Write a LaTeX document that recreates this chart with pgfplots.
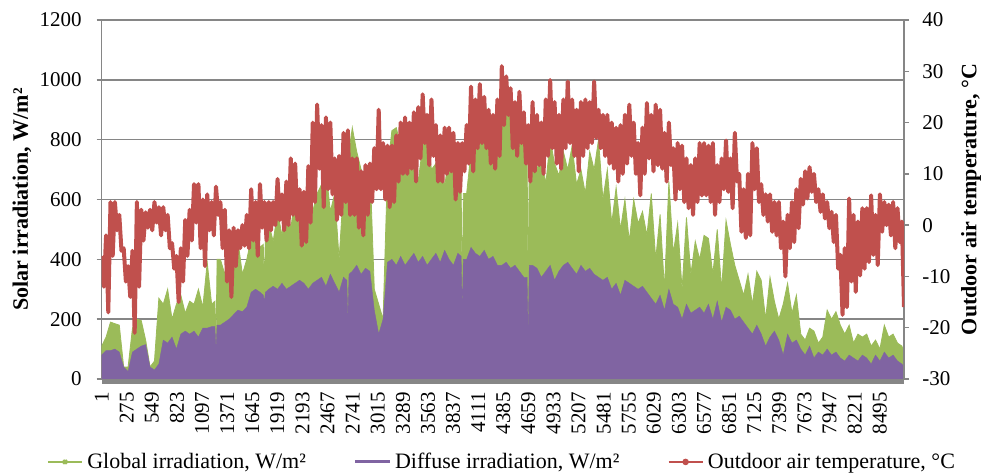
\documentclass[border=0pt]{standalone}
\usepackage{fontspec}
\setmainfont{Liberation Serif}
\usepackage{pgfplots}
\usepackage{pgfplotstable}
\pgfplotsset{compat=1.18}
\definecolor{cgreen}{RGB}{155,187,89}
\definecolor{cpurple}{RGB}{128,100,162}
\definecolor{cred}{RGB}{192,80,77}
\definecolor{cgrid}{RGB}{134,134,134}

\pgfplotstableread{
h G D
1 110 80
49 140 95
97 190 95
145 185 100
193 180 90
241 40 40
289 40 25
337 170 90
385 200 100
433 195 110
481 130 115
529 40 40
577 60 30
625 270 50
673 250 130
721 300 120
769 200 140
817 250 100
865 280 150
913 220 160
961 260 150
1009 250 160
1057 300 140
1105 240 170
1153 390 170
1201 250 175
1237 260 175
1249 120 100
1261 400 180
1297 400 180
1345 350 190
1393 420 200
1441 380 215
1489 460 230
1537 350 225
1585 400 240
1633 470 290
1681 510 300
1729 440 290
1765 450 280
1777 300 260
1789 500 290
1825 520 300
1873 460 310
1921 560 300
1969 480 320
2017 590 300
2065 500 310
2113 620 320
2161 540 330
2209 520 320
2257 600 300
2305 560 320
2353 620 330
2401 650 340
2449 700 310
2497 560 350
2545 620 320
2593 400 290
2641 640 340
2677 700 330
2689 720 200
2701 760 350
2737 840 360
2785 760 380
2833 700 350
2881 600 370
2929 720 360
2977 300 230
3025 250 150
3073 200 200
3121 700 390
3169 830 400
3217 840 380
3265 780 410
3313 700 380
3361 800 400
3409 760 420
3457 660 390
3505 780 410
3553 820 380
3601 700 400
3649 720 420
3697 780 390
3745 640 430
3793 760 400
3841 700 380
3889 650 420
3925 650 410
3937 250 230
3949 620 400
3985 620 400
4033 760 440
4081 850 420
4129 900 410
4177 940 430
4225 860 400
4273 820 410
4321 900 380
4369 960 380
4417 990 390
4465 880 370
4513 800 380
4561 850 360
4609 780 340
4645 780 340
4657 200 150
4669 800 380
4705 800 380
4753 700 370
4801 760 340
4849 650 360
4897 800 380
4945 720 330
4993 680 360
5041 760 380
5089 700 390
5137 780 370
5185 650 350
5233 700 380
5281 620 360
5329 760 370
5377 700 350
5425 800 340
5473 600 330
5521 700 340
5569 520 300
5617 640 320
5665 500 280
5713 600 330
5761 460 320
5809 600 310
5857 520 300
5905 560 310
5953 480 290
6001 620 270
6049 400 250
6097 550 280
6145 300 230
6193 660 300
6241 420 250
6289 520 240
6337 300 200
6385 540 250
6433 350 220
6481 460 230
6529 400 240
6577 480 220
6625 470 250
6673 350 200
6721 500 260
6769 300 190
6817 530 240
6865 450 230
6913 380 200
6961 330 210
7009 280 190
7057 350 170
7105 250 150
7153 360 180
7201 330 150
7249 200 110
7297 340 140
7345 260 160
7393 200 130
7441 250 80
7489 320 150
7537 220 120
7585 280 130
7633 150 100
7681 130 80
7729 170 110
7777 160 70
7825 120 90
7873 140 80
7921 230 100
7969 200 80
8017 225 90
8065 180 70
8113 150 60
8161 180 80
8209 120 70
8257 150 60
8305 140 80
8353 150 70
8401 110 50
8449 130 80
8497 100 60
8545 180 90
8593 140 70
8641 150 80
8689 120 60
8737 110 50
8760 90 40
}\irr

\pgfplotstableread{
h T
1 -6
25 -12
49 -2
73 -17
97 4.5
121 -6
145 4.5
169 -1
193 2
217 -5
241 -4.5
265 -11
289 -8
313 -14
337 -5
361 -21
385 4.5
409 -12
433 3
457 -3
481 2.5
505 -0.5
529 3
553 -1
577 4.5
601 0.5
625 3.5
649 -2
673 3.5
697 -1
721 2
745 -4.5
769 -3.5
793 -8.5
817 -6
841 -15
865 -4.5
889 -11
913 1
937 -6
961 3
985 -3
1009 8
1033 0.5
1057 8
1081 -4.5
1105 5
1129 -8
1153 6
1177 -1
1201 4.5
1225 -2
1249 7.5
1273 2
1297 4.5
1321 -4.5
1345 3
1369 -11
1393 -1
1417 -14
1441 -0.5
1465 -8
1489 -1
1513 -4.5
1537 0
1561 -4
1585 2
1609 -4.5
1633 7
1657 -3
1681 4.5
1705 -6
1729 8
1753 -0.5
1777 4.5
1801 -3
1825 4.5
1849 -1
1873 4.5
1897 0
1921 9
1945 1
1969 6
1993 -1
2017 8.5
2041 0
2065 13
2089 2
2113 12
2137 1
2161 7
2185 -4
2209 6.5
2233 -3.3
2257 11.5
2281 0.5
2305 20
2329 4.5
2353 23.5
2377 11
2401 19.5
2425 3.5
2449 21
2473 7
2497 20
2521 6
2545 13
2569 1
2593 13.5
2617 2
2641 18
2665 4.5
2689 18.5
2713 2
2737 13
2761 2
2785 13
2809 -0.5
2833 10.5
2857 -2
2881 11.7
2905 2
2929 12
2953 4.5
2977 15
3001 7
3025 22.5
3049 7
3073 16
3097 5
3121 15.5
3145 3.5
3169 15.5
3193 4.5
3217 17.5
3241 8.5
3265 20
3289 10
3313 21
3337 10
3361 20
3385 11
3409 22
3433 8.5
3457 23
3481 13
3505 25.5
3529 16
3553 21.5
3577 11.7
3601 24.5
3625 13.5
3649 19.5
3673 8.5
3697 17.5
3721 8.5
3745 19
3769 10
3793 19
3817 10.5
3841 18
3865 5
3889 16
3913 6.5
3937 16
3961 10.5
3985 19.5
4009 12
4033 27
4057 10.5
4081 24.5
4105 15
4129 27.5
4153 16
4177 25
4201 15
4225 22.5
4249 12
4273 21.5
4297 11
4321 24.5
4345 13.5
4369 31
4393 19.5
4417 29
4441 21.5
4465 26.7
4489 15
4513 24
4537 13.5
4561 26
4585 16
4609 22
4633 12
4657 19.5
4681 8.5
4705 24
4729 10.5
4753 21.5
4777 11.7
4801 20
4825 10
4849 24.5
4873 13.5
4897 28.3
4921 15
4945 24
4969 12
4993 21.5
5017 11
5041 24.5
5065 15
5089 28
5113 16
5137 24.5
5161 13.5
5185 22.5
5209 10.5
5233 24
5257 13.5
5281 24.5
5305 15
5329 24
5353 16
5377 28
5401 17
5425 22.5
5449 15
5473 21.5
5497 13.5
5521 21.5
5545 12
5569 20
5593 11
5617 19
5641 8.5
5665 19.5
5689 10
5713 21.5
5737 12
5761 23.5
5785 13.5
5809 20
5833 10
5857 16
5881 5.8
5905 19
5929 10
5953 23.8
5977 13
6001 21.5
6025 10.5
6049 23.5
6073 11.7
6097 22.5
6121 11
6145 18
6169 8.5
6193 20
6217 11.7
6241 15
6265 5
6289 16
6313 7
6337 15.5
6361 4.5
6385 13
6409 3.3
6433 11.7
6457 2
6481 13
6505 4.5
6529 16
6553 5.8
6577 16
6601 5.8
6625 15.5
6649 4.5
6673 16
6697 2
6721 11.7
6745 4.5
6769 13
6793 7
6817 16.5
6841 6.5
6865 13
6889 3.3
6913 18
6937 8.5
6961 10
6985 -1.3
7009 7
7033 -2.5
7057 10
7081 -2
7105 16
7129 7
7153 15
7177 4.5
7201 8
7225 2
7249 6
7273 0.7
7297 6
7321 -1.3
7345 4.5
7369 -2
7393 4.5
7417 -4.5
7441 0.7
7465 -10
7489 2
7513 -4.5
7537 4.5
7561 -3.3
7585 7
7609 -0.6
7633 9
7657 4
7681 10.5
7705 5.2
7729 11.3
7753 6.5
7777 10
7801 4.5
7825 7
7849 2.6
7873 6
7897 1.3
7921 4.5
7945 -0.6
7969 2.6
7993 -3.3
8017 2
8041 -8.5
8065 -5.8
8089 -17.5
8113 -4.5
8137 -16
8161 5.2
8185 -11
8209 2
8233 -13
8257 0.7
8281 -9.8
8305 3.3
8329 -8.5
8353 3.3
8377 -7.2
8401 5.8
8425 -5.8
8449 2
8473 -7.8
8497 6
8521 -1.3
8545 4.5
8569 0
8593 4
8617 -2
8641 4.5
8665 -4.5
8689 3.3
8713 -3.3
8737 0.7
8760 -16
}\temp

\begin{document}
\begin{tikzpicture}
\pgfplotsset{
  common/.style={
    scale only axis, width=401.15pt, height=179.5pt,
    xmin=1, xmax=8760,
    scaled ticks=false,
    /pgf/number format/assume math mode=true,
    /pgf/number format/1000 sep={},
    tick label style={font=\fontsize{10.5}{12}\selectfont},
    label style={font=\bfseries\fontsize{11}{13}\selectfont},
    tick align=outside, major tick length=2.5pt,
    every tick/.style={cgrid, line width=0.75pt},
    axis line style={cgrid, line width=0.75pt},
    yticklabel style={inner sep=0pt},
  }
}
\begin{axis}[common, name=ax,
  ymin=0, ymax=1200, ytick={0,200,...,1200},
  axis x line*=bottom, axis y line*=left,
  ymajorgrids, grid style={cgrid, line width=0.75pt},
  xtick={1,275,...,8495}, x tick style={draw=none},
  xticklabel style={rotate=90, anchor=east, inner sep=0pt},
  xticklabel shift=4pt,
  yticklabel shift=7.3pt,
  ylabel={Solar irradiation, W/m²},
  ylabel style={at={(axis description cs:-0.0994,0.5)}, anchor=center},
  after end axis/.code={\fill[cgrid] (rel axis cs:0,0) rectangle ([yshift=-2.5pt]rel axis cs:1,0);},
]
\addplot[fill=cgreen, draw=cgreen, line width=0.4pt] table[x=h, y=G]{\irr} \closedcycle;
\addplot[fill=cpurple, draw=cpurple, line width=0.2pt] table[x=h, y=D]{\irr} \closedcycle;
\end{axis}
\begin{axis}[common,
  ymin=-30, ymax=40, ytick={-30,-20,...,40},
  axis y line*=right, axis x line=none, xtick=\empty,
  yticklabel shift=6.5pt,
  ylabel={Outdoor air temperature, °C},
  ylabel style={at={(axis description cs:1.0835,0.5)}, anchor=center},
  legend columns=3,
  legend style={draw=none, fill=none, at={(0.5,-0.231)}, anchor=center,
    font=\fontsize{11}{13}\selectfont,
    /tikz/every even column/.append style={column sep=22pt}},
  legend cell align=left,
]
\addlegendimage{cgreen, line width=1.2pt, mark=x, mark size=1.3pt}
\addlegendentry{Global irradiation, W/m²}
\addlegendimage{cpurple, line width=1.5pt}
\addlegendentry{Diffuse irradiation, W/m²}
\addlegendimage{cred, line width=1.2pt, mark=*, mark size=1pt}
\addlegendentry{Outdoor air temperature, °C}
\addplot[cred, line width=2pt, line join=round, forget plot] table[x=h, y=T]{\temp};
\end{axis}
\pgfresetboundingbox
\path ([xshift=-50.85pt, yshift=-48pt]ax.south west) rectangle ++(490.5pt, 237.5pt);
\end{tikzpicture}
\end{document}
